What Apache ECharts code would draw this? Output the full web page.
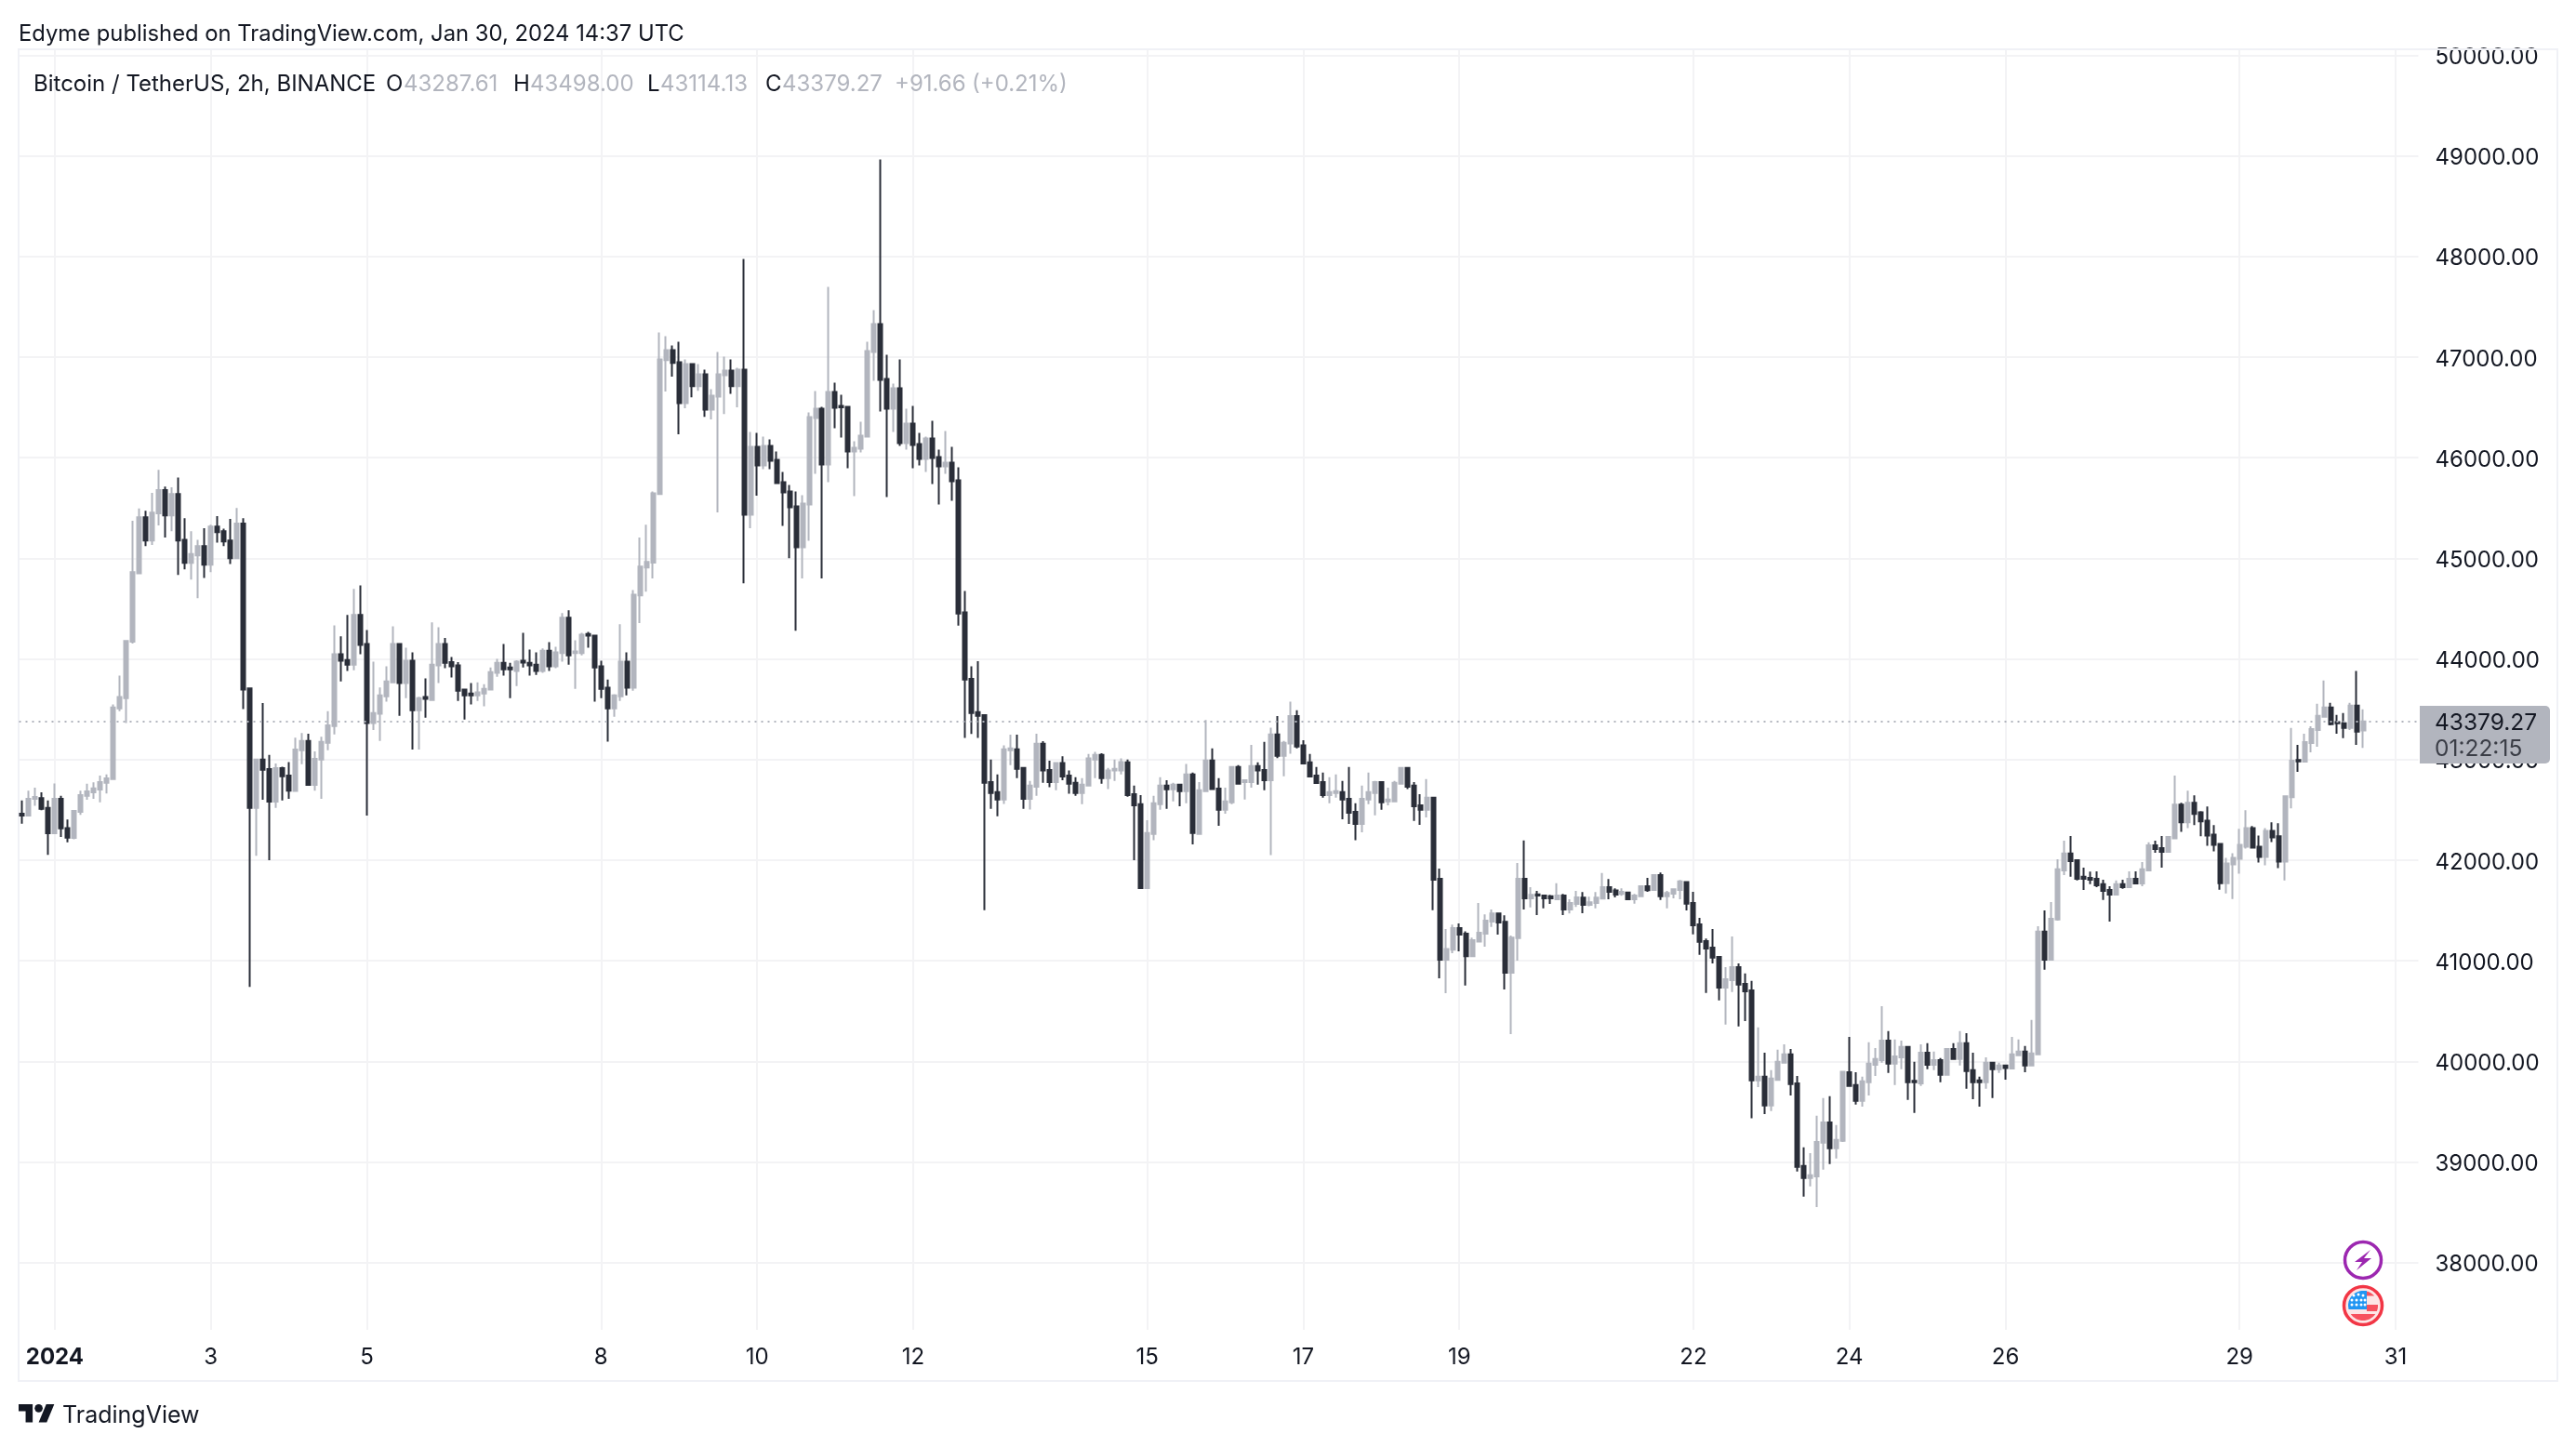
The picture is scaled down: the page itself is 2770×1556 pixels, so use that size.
<!DOCTYPE html>
<html>
<head>
<meta charset="utf-8">
<style>html,body{margin:0;padding:0;background:#fff}#c{width:2770px;height:1556px}</style>
<script src="https://cdn.jsdelivr.net/npm/echarts@6/dist/echarts.min.js"></script>
</head>
<body>
<div id="c"></div>
<script>
const opens = [
42461,42443,42610,42617,42518,42266,42610,42319,42220,42479,
42638,42674,42702,42769,42805,43507,43610,44170,44851,45408,
45177,45447,45677,45425,45638,45184,44954,45028,45120,44936,
45315,45269,45177,45000,45344,43706,42518,43000,42904,42581,
42915,42840,42688,43092,43184,42748,43000,43167,43333,44046,
43989,43943,44436,44149,43362,43454,43628,43766,44149,43759,
43982,43489,43620,43592,43936,44149,43968,43936,43695,43656,
43638,43656,43695,43862,43961,43915,43879,43982,43961,43943,
43879,44081,43925,44057,44408,44057,44057,44248,44230,43925,
43713,43507,43628,43972,43713,44631,44908,44956,45639,46970,
47069,46948,46542,46930,46711,46828,46477,46607,46819,46865,
46711,46874,45433,46108,45923,46117,45978,45756,45664,45516,
45110,45535,46394,46486,45932,46653,46514,46505,46061,46089,
46209,47050,47327,46782,46486,46690,46145,46339,46135,45987,
46191,46006,45914,45950,45775,44461,43802,43471,43442,42776,
42675,42601,43091,43101,42916,42610,42730,43156,42896,42776,
42964,42841,42769,42666,42740,42999,43045,42815,42890,42890,
42971,42656,42555,41721,42260,42555,42740,42704,42750,42685,
42851,42260,42685,42990,42711,42500,42575,42925,42776,42776,
42935,42896,42795,43250,43036,43159,43432,43140,42971,42841,
42776,42646,42666,42675,42610,42480,42360,42601,42666,42776,
42584,42584,42760,42916,42740,42545,42500,42620,41815,41010,
41110,41324,41270,41045,41191,41270,41390,41471,41386,40880,
41224,41815,41620,41659,41649,41640,41610,41649,41510,41565,
41627,41556,41575,41618,41732,41698,41664,41677,41612,41640,
41741,41704,41852,41640,41667,41704,41781,41575,41362,41196,
41131,41039,40734,40808,40937,40771,40706,39810,39847,39561,
39816,39986,40069,39782,38960,38840,38858,39191,39394,39136,
39210,39893,39764,39607,39792,39967,40013,40207,39977,40041,
40143,39807,39782,40087,39967,40013,39866,40124,40023,40180,
39912,39810,39792,39986,39921,39958,39930,40060,40097,39958,
40069,41289,41011,41409,41898,42065,42000,41834,41824,41815,
41760,41704,41658,41760,41732,41815,41769,41898,42148,42120,
42083,42217,42551,42375,42570,42474,42393,42254,42161,41771,
41957,42013,42133,42319,42133,42031,42291,42236,41985,42625,
42994,42978,43164,43294,43424,43517,43371,43359,43313,43535,43287.61];
const closes = [
42443,42610,42628,42510,42266,42610,42316,42223,42489,42645,
42684,42713,42776,42812,43518,43620,44177,44862,45408,45177,
45454,45677,45425,45638,45177,44954,45042,45120,44936,45315,
45259,45166,45000,45344,43695,42518,43000,42897,42581,42915,
42833,42691,43099,43184,42748,43007,43174,43340,44046,43982,
43943,44436,44138,43362,43461,43638,43776,44149,43759,43982,
43489,43610,43603,43943,44149,43961,43925,43684,43638,43638,
43667,43702,43869,43961,43897,43897,43972,43964,43936,43879,
44081,43925,44064,44408,44035,44074,44241,44230,43915,43702,
43507,43638,43972,43713,44638,44918,44964,45646,46976,47069,
46942,46542,46930,46711,46828,46477,46616,46828,46865,46711,
46874,45433,46108,45923,46117,45969,45747,45655,45507,45110,
45544,46403,46486,45932,46653,46496,46499,46061,46098,46218,
47059,47327,46773,46486,46690,46145,46339,46126,45987,46191,
45997,45914,45950,45766,44451,43795,43461,43435,42769,42666,
42601,43101,43110,42906,42610,42740,43156,42890,42776,42964,
42831,42760,42666,42750,43010,43045,42815,42890,42906,42974,
42646,42545,41721,42269,42565,42740,42704,42750,42685,42851,
42269,42695,42990,42705,42500,42584,42925,42760,42795,42935,
42890,42795,43250,43036,43166,43432,43130,42961,42831,42766,
42646,42675,42685,42601,42471,42360,42610,42675,42776,42575,
42601,42769,42916,42730,42536,42500,42620,41805,41010,41117,
41324,41260,41045,41204,41279,41399,41471,41380,40880,41230,
41815,41620,41656,41649,41620,41620,41649,41510,41575,41630,
41556,41581,41627,41732,41686,41658,41686,41612,41649,41741,
41701,41852,41640,41674,41711,41788,41566,41353,41187,41122,
41030,40734,40817,40937,40762,40697,39810,39847,39561,39829,
39995,40069,39773,38951,38840,38868,39200,39394,39136,39219,
39896,39755,39607,39801,39977,40023,40207,39977,40050,40143,
39792,39792,40087,39967,40013,39866,40124,40023,40180,39903,
39792,39792,39986,39921,39958,39933,40069,40097,39958,40078,
41289,41011,41418,41908,42065,41991,41815,41815,41806,41750,
41695,41658,41760,41732,41815,41769,41908,42148,42111,42083,
42231,42551,42375,42570,42458,42384,42245,42152,41771,41966,
42022,42152,42319,42124,42031,42291,42226,41985,42635,42988,
42982,43173,43303,43433,43517,43350,43359,43313,43535,43276,43379.27];
const highs = [
42592,42691,42720,42674,42592,42762,42638,42404,42496,42691,
42759,42773,42840,42851,43546,43833,44181,45372,45496,45471,
45649,45879,45713,45706,45801,45397,45269,45184,45298,45333,
45418,45294,45390,45500,45397,43713,43007,43560,43046,42961,
42929,42975,43216,43262,43255,43081,43227,43479,44333,44223,
44436,44695,44730,44287,43972,43716,43925,44323,44152,44110,
44064,43624,43805,44362,44315,44209,44018,43968,43702,43759,
43766,43748,43915,44000,44149,43961,43986,44259,44092,44064,
44103,44167,44120,44454,44482,44184,44259,44269,44230,43982,
43794,43649,44344,44064,44684,45206,45333,45664,47244,47207,
47115,47152,46976,46939,46930,46874,46680,47050,47004,46976,
46893,47974,46255,46246,46209,46181,46061,45858,45729,45664,
45627,46449,46662,46505,47697,46745,46625,46505,46163,46357,
47152,47466,48963,47022,46736,46976,46486,46514,46246,46209,
46366,46080,46265,46108,45904,44675,43925,43977,43451,43000,
42851,43140,43247,43247,42916,42786,43257,43182,42987,42971,
43032,42890,42825,42815,43055,43075,43062,42916,42999,43010,
42999,42740,42646,42396,42640,42825,42795,42769,42760,42955,
42870,42776,43393,43110,42815,42721,42935,42945,42795,43146,
42971,43175,43315,43432,43185,43575,43490,43192,43055,42925,
42870,42825,42851,42786,42925,42565,42740,42870,42786,42776,
42721,42786,42916,42925,42776,42656,42805,42620,41915,41315,
41360,41370,41292,41230,41575,41461,41510,41477,41451,41250,
41971,42195,41730,41695,41649,41656,41770,41665,41610,41695,
41683,41637,41683,41871,41812,41720,41720,41683,41664,41741,
41824,41861,41877,41695,41720,41803,41784,41686,41427,41221,
41316,41045,40937,41242,40974,40873,40799,40337,40087,39912,
40115,40170,40124,39856,39145,39089,39459,39635,39653,39367,
39899,40244,39893,39847,40189,40133,40549,40300,40217,40207,
40149,39995,40170,40180,40097,40032,40133,40180,40300,40281,
40087,39847,40041,39995,39986,39967,40244,40217,40152,40411,
41344,41501,41584,42009,42194,42240,42009,41926,41886,41889,
41806,41741,41797,41806,41889,41889,41981,42176,42194,42240,
42240,42839,42570,42691,42644,42486,42533,42347,42161,42022,
42069,42310,42496,42338,42245,42319,42375,42366,42644,43313,
43146,43257,43331,43554,43786,43563,43443,43461,43563,43879,43498];
const lows = [
42362,42433,42539,42496,42053,42259,42230,42177,42206,42450,
42599,42610,42574,42663,42805,43479,43362,44152,44851,45120,
45131,45326,45206,45269,44833,44890,44787,44603,44805,44862,
45156,45120,44943,45000,43500,40741,42042,42599,42000,42518,
42592,42610,42684,42954,42748,42691,42610,43092,43248,43776,
43879,43886,44046,42443,43294,43184,43574,43766,43433,43610,
43099,43099,43415,43585,43759,43908,43815,43581,43397,43546,
43581,43528,43695,43823,43833,43610,43730,43915,43833,43840,
43862,43879,43908,43972,43943,43702,44035,44110,43574,43610,
43177,43425,43581,43638,43684,44355,44667,44799,45639,46656,
46804,46231,46490,46600,46665,46406,46379,45455,46434,46634,
46499,44752,45298,45621,45886,45886,45738,45322,45000,44280,
44799,45174,45840,44799,45756,46292,46200,45895,45618,46052,
46209,46764,46459,45609,46255,46117,46080,45895,45923,45858,
45738,45535,45840,45572,44331,43214,43253,43214,41503,42510,
42435,42558,42945,42815,42510,42503,42640,42769,42724,42695,
42795,42659,42640,42555,42740,42815,42760,42705,42786,42851,
42630,42000,41714,41721,42198,42500,42510,42584,42536,42565,
42156,42250,42685,42705,42341,42461,42555,42750,42601,42721,
42750,42695,42049,43013,42834,43058,43110,42961,42831,42760,
42620,42565,42620,42406,42360,42198,42276,42555,42445,42500,
42545,42584,42760,42705,42390,42351,42425,41503,40825,40678,
41075,41094,40753,41035,41185,41140,41335,41260,40714,40270,
41000,41510,41530,41455,41520,41565,41610,41455,41470,41535,
41473,41541,41520,41609,41612,41630,41646,41612,41566,41640,
41686,41695,41603,41520,41621,41612,41501,41261,41058,40679,
40974,40605,40365,40688,40346,40401,39434,39745,39477,39505,
39810,39986,39662,38905,38655,38757,38553,38923,38979,39034,
39200,39755,39570,39551,39662,39856,39986,39884,39764,39921,
39616,39487,39755,39921,39912,39792,39866,40023,39958,39727,
39625,39551,39727,39635,39884,39819,39930,40060,39893,39958,
40069,40910,41011,41399,41852,41834,41797,41704,41760,41732,
41603,41390,41649,41714,41732,41769,41741,41898,42074,41926,
42083,42217,42282,42319,42347,42236,42143,42087,41706,41669,
41613,41864,42115,42124,41976,41948,42180,41920,41799,42514,
42876,42978,43071,43127,43424,43340,43257,43211,43294,43146,43114.13];

const tickDays = [1,3,5,8,10,12,15,17,19,22,24,26,29,31];
const tickLabels = ['2024','3','5','8','10','12','15','17','19','22','24','26','29','31'];
const priceTicks = [38000,39000,40000,41000,42000,43000,44000,45000,46000,47000,48000,49000,50000];
const lastPrice = 43379.27;
const countdown = '01:22:15';
const publishedText = 'Edyme published on TradingView.com, Jan 30, 2024 14:37 UTC';
const symbolText = 'Bitcoin / TetherUS, 2h, BINANCE';
const brandText = 'TradingView';

// 2h bars: Dec 31 14:00 UTC up to Jan 31 06:00 UTC (empty space right of the last bar)
const categories = [];
const tickOfCategory = {};
for (let t = Date.UTC(2023,11,31,14); t <= Date.UTC(2024,0,31,6); t += 7200000) {
  const d = new Date(t);
  const name = d.toISOString().slice(5,13);
  if (d.getUTCMonth() === 0 && d.getUTCHours() === 0) {
    const k = tickDays.indexOf(d.getUTCDate());
    if (k >= 0) tickOfCategory[name] = tickLabels[k];
  }
  categories.push(name);
}
const candles = opens.map((o,i) => [o, closes[i], lows[i], highs[i]]);

const UP = '#b2b5be', DOWN = '#2a2e39', INK = '#131722', GRID = '#f3f3f5', FRAME = '#f0f1f6';
const FONT = 'Inter';
const isTick = (idx) => tickOfCategory[categories[idx]] !== undefined;

function label(text, x, y, size, fill, weight) {
  return {type:'text', z:100, silent:true, style:{text, x, y, fill,
    font:(weight||'normal')+' '+size+'px '+FONT, textAlign:'left', textVerticalAlign:'middle'}};
}
// decorative badge shapes, in coordinates relative to the badge centre
function arcPts(r, a0, a1) {
  const pts = [];
  for (let k = 0; k <= 16; k++) {
    const a = (a0 + (a1 - a0) * k / 16) * Math.PI / 180;
    pts.push([r * Math.cos(a), r * Math.sin(a)]);
  }
  return pts;
}
function poly(x, y, points, fill, z, scale) {
  return {type:'polygon', z, silent:true, x, y, scaleX:scale||1, scaleY:scale||1, shape:{points}, style:{fill}};
}
const stars = [];
[[-10,-11],[-5,-12],[0,-11],[-12,-6],[-7,-6],[-2,-6],[2,-6],[-12,-1],[-7,-1],[-2,-1],[2,-1]].forEach(p=>{
  stars.push({type:'circle', z:103, silent:true, x:2541+p[0], y:1404+p[1], shape:{cx:0,cy:0,r:1.5}, style:{fill:'#fff'}});
});

const chart = echarts.init(document.getElementById('c'), null, {renderer:'canvas', width:2770, height:1556});
chart.setOption({
  animation:false,
  backgroundColor:'#ffffff',
  grid:{left:20.5, top:53, width:2580, height:1377, containLabel:false},
  xAxis:{
    type:'category', data:categories, boundaryGap:true,
    axisLine:{show:false}, axisTick:{show:false, alignWithLabel:true, interval:(i)=>isTick(i)},
    splitLine:{show:true, alignWithLabel:true, interval:(i)=>isTick(i), lineStyle:{color:GRID,width:2}},
    axisLabel:{
      interval:(i)=>isTick(i), margin:18, color:INK, fontFamily:FONT, fontSize:24, hideOverlap:false,
      formatter:(v)=>{const s=tickOfCategory[v]; return s==='2024' ? '{y|2024}' : (s||'');},
      rich:{y:{fontWeight:'bold',fontFamily:FONT,fontSize:24,color:INK}}
    }
  },
  yAxis:{
    type:'value', position:'right', scale:true, min:37332, max:50058,
    axisLine:{show:false},
    axisTick:{show:false, customValues:priceTicks},
    splitLine:{show:true, lineStyle:{color:GRID,width:2}},
    axisLabel:{customValues:priceTicks, margin:18, color:INK, fontFamily:FONT, fontSize:24,
      verticalAlign:'top', lineHeight:5, formatter:(v)=>v.toFixed(2), align:'left'}
  },
  series:[{
    type:'candlestick', data:candles, barWidth:4.5, clip:true,
    itemStyle:{color:UP, color0:DOWN, borderColor:UP, borderColor0:DOWN, borderWidth:2, borderColorDoji:DOWN},
    markLine:{silent:true, symbol:'none', animation:false, label:{show:false},
      lineStyle:{color:UP, type:[2,5], width:2}, data:[{yAxis:lastPrice}]}
  }],
  graphic:{elements:[
    {type:'rect', z:1, silent:true, shape:{x:20,y:53,width:2730,height:1432}, style:{fill:'none',stroke:FRAME,lineWidth:2}},
    label(publishedText,20,36.5,23.8,INK),
    label(symbolText,36,91,24,INK),
    label('O',415,91,24,INK), label('43287.61',434,91,24,UP),
    label('H',552,91,24,INK), label('43498.00',570,91,24,UP),
    label('L',696,91,24,INK), label('43114.13',710,91,24,UP),
    label('C',823,91,24,INK), label('43379.27',841,91,24,UP),
    label('+91.66',962,91,24,UP), label('(+0.21%)',1045,91,24,UP),
    {type:'rect', z:99, silent:true, shape:{x:2602,y:759,width:140,height:62,r:[0,5,5,0]}, style:{fill:UP}},
    label(lastPrice.toFixed(2),2618,778,24.5,INK),
    label(countdown,2618,806,24.5,'#3a3d46'),
    poly(20,1505.7,[[0,4],[14,4],[14,22],[7,22],[7,11],[0,11]],INK,100,1.08),
    poly(20,1505.7,[[27.5,4],[35.5,4],[28,22],[20,22]],INK,100,1.08),
    {type:'circle', z:100, silent:true, x:20, y:1505.7, scaleX:1.08, scaleY:1.08, shape:{cx:20,cy:8,r:4}, style:{fill:INK}},
    label(brandText,67,1522,25,INK),
    {type:'circle', z:100, silent:true, shape:{cx:2541,cy:1355,r:19.5}, style:{fill:'#fff',stroke:'#9c27b0',lineWidth:3.5}},
    poly(2541,1355,[[8,-11],[-9,2],[-1,2],[-7,11],[9,-2],[1,-2]],'#9c27b0',101),
    {type:'circle', z:100, silent:true, shape:{cx:2541,cy:1404,r:20.5}, style:{fill:'#fde6e6',stroke:'#f23645',lineWidth:3.5}},
    poly(2541,1404,[[4,-15.5],...arcPts(16,-76,-41),[4,-10.5]],'#f7525f',101),
    poly(2541,1404,[[4,-1],...arcPts(16,-4,22),[4,6]],'#f7525f',101),
    poly(2541,1404,arcPts(16,34,146),'#f7525f',101),
    poly(2541,1404,[[-15.5,4],...arcPts(16,180,270),[4,-16],[4,4]],'#2196f3',102),
    ...stars
  ]}
});
</script>
</body>
</html>
